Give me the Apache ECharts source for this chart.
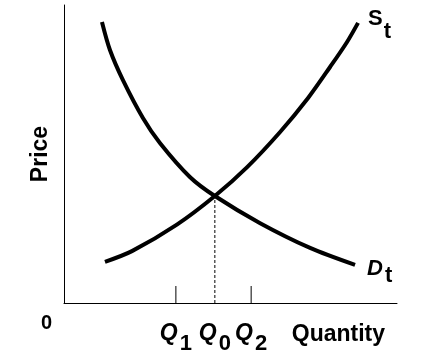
<!DOCTYPE html>
<html><head><meta charset="utf-8">
<script src="https://cdn.jsdelivr.net/npm/echarts@6/dist/echarts.min.js"></script>
<style>html,body{margin:0;padding:0;background:#fff}#c{width:421px;height:360px}</style>
</head><body><div id="c"></div>
<script>
// Supply curve S_t (quantity, price)
const supplyQ = [12.3, 20.4, 33.9, 45.3, 55.0, 64.9, 73.3, 79.9, 85.0, 88.3];
const supplyP = [13.8, 17.4, 26.3, 35.9, 45.6, 57.4, 68.8, 79.2, 87.6, 94.0];
// Demand curve D_t
const demandQ = [11.4, 13.8, 17.7, 23.7, 28.8, 37.8, 45.3, 58.9, 73.9, 87.4];
const demandP = [94.3, 84.9, 74.8, 62.1, 53.7, 42.3, 35.9, 26.8, 18.5, 12.8];
// Quantity markers
const qPositions = [33.6, 45.3, 56.2];
const qSubscripts = ['1', '0', '2'];
const tickPositions = [33.6, 56.2];
const tickHeight = 5.7;
const equilibriumQ = 45.3;
const equilibriumP = 35.9;
const quantityLabelPos = 82.4;
const xName = 'Quantity';
const yName = 'Price';
const originLabel = '0';

const FONT = 'Liberation Sans, Arial, sans-serif';
const zip = (a, b) => a.map((v, i) => [v, b[i]]);

const chart = echarts.init(document.getElementById('c'), null, {renderer: 'canvas'});
const tickSeries = tickPositions.map(x => ({
  type: 'line', data: [[x, 0], [x, tickHeight]], showSymbol: false, silent: true,
  lineStyle: {color: '#000', width: 1}, z: 1
}));
chart.setOption({
  animation: false,
  backgroundColor: '#fff',
  grid: {left: 64, right: 24, top: 5, bottom: 57},
  xAxis: {
    type: 'value', min: 0, max: 100,
    splitLine: {show: false},
    axisLine: {lineStyle: {color: '#000', width: 1}},
    axisTick: {show: false},
    axisLabel: {
      customValues: qPositions.concat([quantityLabelPos]),
      margin: 10, color: '#000',
      formatter: function (v) {
        const i = qPositions.indexOf(v);
        if (i >= 0) return '{q|Q}{s|' + qSubscripts[i] + '}';
        return '{n|' + xName + '}';
      },
      rich: {
        q: {fontFamily: FONT, fontSize: 23, fontWeight: 'bold', fontStyle: 'italic', color: '#000'},
        s: {fontFamily: FONT, fontSize: 22, fontWeight: 'bold', color: '#000', padding: [20, 0, 0, 2]},
        n: {fontFamily: FONT, fontSize: 23, fontWeight: 'bold', color: '#000', padding: [10, 0, 10, 0]}
      }
    }
  },
  yAxis: {
    type: 'value', min: 0, max: 100,
    splitLine: {show: false},
    axisLine: {show: true, lineStyle: {color: '#000', width: 1}},
    axisTick: {show: false},
    axisLabel: {show: false},
    name: yName, nameLocation: 'middle', nameRotate: 90, nameGap: 12,
    nameTextStyle: {fontFamily: FONT, fontSize: 23, fontWeight: 'bold', color: '#000'}
  },
  graphic: [{
    type: 'text', left: 41, top: 313,
    style: {text: originLabel, fontFamily: FONT, fontSize: 20, fontWeight: 'bold', fill: '#000'}
  }],
  series: [
    {
      type: 'line', data: zip(supplyQ, supplyP), smooth: 0.3, showSymbol: false,
      lineStyle: {color: '#000', width: 4}, z: 3,
      endLabel: {
        show: true, distance: 10, offset: [0, -4],
        formatter: '{a|S}{b|t}',
        rich: {
          a: {fontFamily: FONT, fontSize: 22, fontWeight: 'bold', color: '#000'},
          b: {fontFamily: FONT, fontSize: 22, fontWeight: 'bold', color: '#000', padding: [26, 0, 0, 1]}
        }
      }
    },
    {
      type: 'line', data: zip(demandQ, demandP), smooth: 0.3, showSymbol: false,
      lineStyle: {color: '#000', width: 4}, z: 3,
      endLabel: {
        show: true, distance: 12, offset: [0, 4],
        formatter: '{a|D}{b|t}',
        rich: {
          a: {fontFamily: FONT, fontSize: 22, fontWeight: 'bold', fontStyle: 'italic', color: '#000'},
          b: {fontFamily: FONT, fontSize: 22, fontWeight: 'bold', color: '#000', padding: [14, 0, 0, 2]}
        }
      }
    },
    {
      type: 'line', data: [[equilibriumQ, 0], [equilibriumQ, equilibriumP]], showSymbol: false, silent: true,
      lineStyle: {color: '#000', width: 1, type: [3, 2]}, z: 2
    }
  ].concat(tickSeries)
});
</script>
</body></html>
